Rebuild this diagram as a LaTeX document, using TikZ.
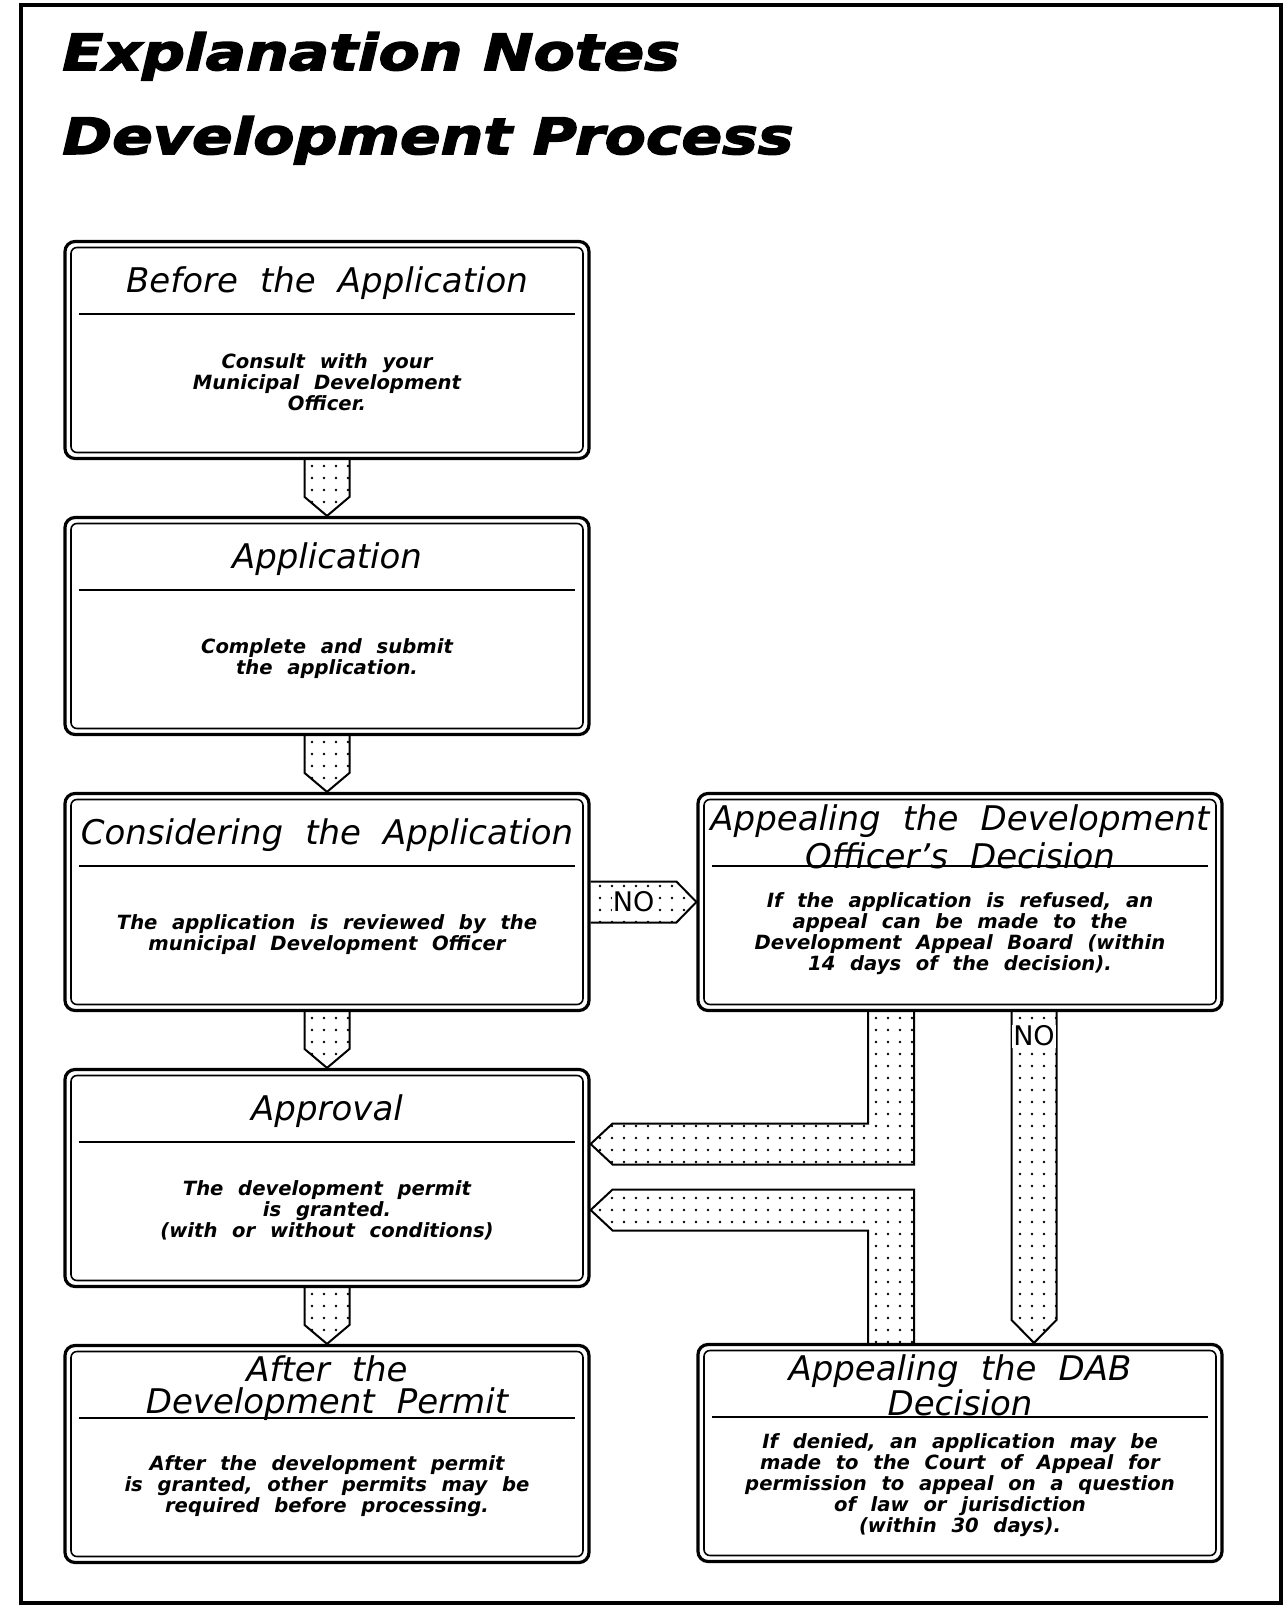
\documentclass[tikz,border=0pt]{standalone}
\usepackage{fontspec}
\setmainfont{DejaVu Sans}
\newfontfamily\bannerfont[FakeStretch=1.2,FakeBold=3]{DejaVu Sans}
\newcommand\headfont{\itshape\fontsize{17}{15}\selectfont\spaceskip=0.65em\relax}
\newcommand\notefont{\bfseries\itshape\fontsize{9.8}{10.5}\selectfont\spaceskip=0.75em\relax}
\usetikzlibrary{positioning,patterns.meta}

\tikzset{
  stage/.style={draw, fill=white, line width=1.6pt, rounded corners=5pt,
    minimum width=262pt, minimum height=108.5pt, inner sep=0pt,
    path picture={\draw[line width=0.8pt, rounded corners=3pt]
      ([shift={(3pt,3pt)}]path picture bounding box.south west) rectangle
      ([shift={(-3pt,-3pt)}]path picture bounding box.north east);}},
  head/.style={align=center, inner sep=0pt, font=\headfont},
  note/.style={align=center, inner sep=0pt, font=\notefont},
  rule/.style={line width=0.9pt},
  banner/.style={inner sep=0pt, anchor=base west,
    font=\bannerfont\bfseries\itshape\fontsize{25}{25}\selectfont},
  flow/.style={draw, line width=1pt, pattern={Dots[distance=6pt, radius=0.65pt]}},
  nomark/.style={fill=white, inner sep=0.6pt, font=\fontsize{13.5}{13.5}\selectfont},
  downflow/.style={to path={([xshift=-11.25pt]\tikztostart.south)
    -- ([xshift=-11.25pt,yshift=9.5pt]\tikztotarget.north) -- (\tikztotarget.north)
    -- ([xshift=11.25pt,yshift=9.5pt]\tikztotarget.north) -- ([xshift=11.25pt]\tikztostart.south)}}
}

\begin{document}
\begin{tikzpicture}[x=0.5pt, y=-0.5pt, node distance=138pt, on grid]
  \useasboundingbox (0,0) rectangle (1285,1606);
  \draw[line width=2pt] (21,5) rectangle (1281,1603);

  \node[banner] (title-a) at (62,70) {Explanation Notes};
  \node[banner] (title-b) at (62,154) {Development Process};

  % left column
  \node[stage] (before) at (327,350) {};
  \node[stage, below=of before] (application) {};
  \node[stage, below=of application] (considering) {};
  \node[stage, below=of considering] (approval) {};
  \node[stage, below=of approval] (after) {};
  % right column
  \node[stage, right=316.5pt of considering] (appeal-do) {};
  \node[stage, below=275.5pt of appeal-do] (appeal-dab) {};

  \node[head] (before-h) at ([yshift=-21.5pt]before.north) {Before the Application};
  \node[head] (application-h) at ([yshift=-21.5pt]application.north) {Application};
  \node[head] (considering-h) at ([yshift=-21.5pt]considering.north) {Considering the Application};
  \node[head] (approval-h) at ([yshift=-21.5pt]approval.north) {Approval};
  \node[head] (after-h) at ([yshift=-22pt]after.north) {After the\\[1pt]Development Permit};
  \node[head] (appeal-do-h) at ([yshift=-22.5pt]appeal-do.north) {Appealing the Development\\[1.5pt]Officer’s Decision};
  \node[head] (appeal-dab-h) at ([yshift=-21pt]appeal-dab.north) {Appealing the DAB\\Decision};

  \foreach \b in {before,application,considering,approval,after,appeal-do,appeal-dab}
    \draw[rule] ([shift={(8pt,-37pt)}]\b.north west) -- ([shift={(-8pt,-37pt)}]\b.north east);

  \node[note] (before-n) at ([yshift=39pt]before.south) {Consult with your\\Municipal Development\\Officer.};
  \node[note] (application-n) at ([yshift=39pt]application.south) {Complete and submit\\the application.};
  \node[note] (considering-n) at ([yshift=39pt]considering.south) {The application is reviewed by the\\municipal Development Officer};
  \node[note] (approval-n) at ([yshift=39pt]approval.south) {The development permit\\is granted.\\(with or without conditions)};
  \node[note] (after-n) at ([yshift=39pt]after.south) {After the development permit\\is granted, other permits may be\\required before processing.};
  \node[note] (appeal-do-n) at ([yshift=39pt]appeal-do.south) {If the application is refused, an\\appeal can be made to the\\Development Appeal Board (within\\14 days of the decision).};
  \node[note] (appeal-dab-n) at ([yshift=39pt]appeal-dab.south) {If denied, an application may be\\made to the Court of Appeal for\\permission to appeal on a question\\of law or jurisdiction\\(within 30 days).};

  % block arrows
  \draw[flow] (before) to[downflow] (application);
  \draw[flow] (application) to[downflow] (considering);
  \draw[flow] (considering) to[downflow] (approval);
  \draw[flow] (approval) to[downflow] (after);

  \draw[flow] ([yshift=10.25pt]considering.east) -- ([xshift=-10pt,yshift=10.25pt]appeal-do.west)
    -- (appeal-do.west) -- ([xshift=-10pt,yshift=-10.25pt]appeal-do.west) -- ([yshift=-10.25pt]considering.east);
  \node[nomark] (no-a) at ([xshift=21.5pt]considering.east) {NO};

  \coordinate (no-top) at ([xshift=37pt]appeal-do.south);
  \coordinate (no-tip) at (no-top |- appeal-dab.north);
  \draw[flow] ([xshift=-11.25pt]no-top) -- ([xshift=-11.25pt,yshift=11.5pt]no-tip) -- (no-tip)
    -- ([xshift=11.25pt,yshift=11.5pt]no-tip) -- ([xshift=11.25pt]no-top);
  \node[nomark] (no-b) at ([yshift=-12pt]no-top) {NO};

  \coordinate (tip-do) at ([yshift=17pt]approval.east);
  \coordinate (tip-dab) at ([yshift=-16pt]approval.east);
  \draw[flow] ([xshift=-46pt]appeal-do.south) |- ([xshift=11pt,yshift=10.25pt]tip-do) -- (tip-do)
    -- ([xshift=11pt,yshift=-10.25pt]tip-do) -| ([xshift=-23pt]appeal-do.south);
  \draw[flow] ([xshift=-46pt]appeal-dab.north) |- ([xshift=11pt,yshift=-10.25pt]tip-dab) -- (tip-dab)
    -- ([xshift=11pt,yshift=10.25pt]tip-dab) -| ([xshift=-23pt]appeal-dab.north);
\end{tikzpicture}
\end{document}
